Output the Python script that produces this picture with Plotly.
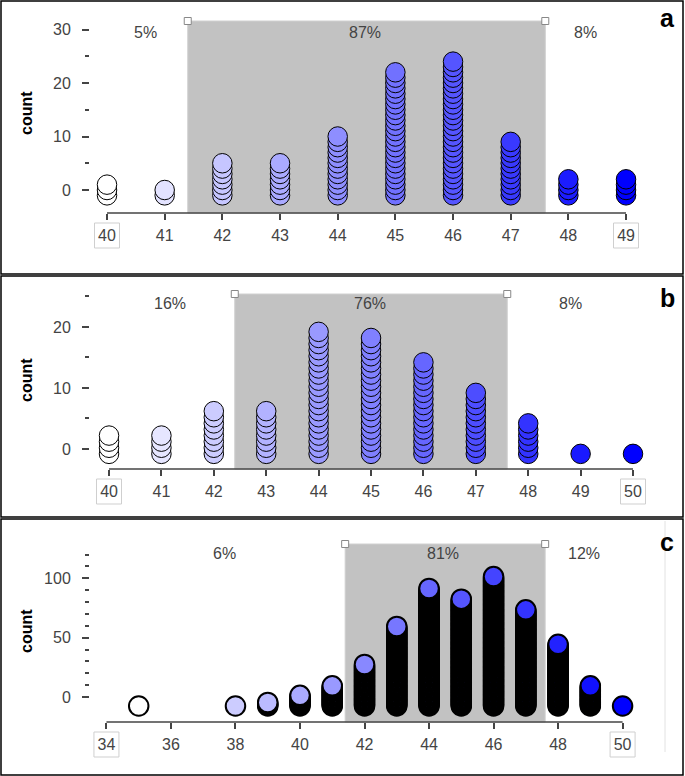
import plotly.graph_objects as go

# panel a
a_values = [40, 41, 42, 43, 44, 45, 46, 47, 48, 49]
a_counts = [3, 2, 7, 7, 12, 24, 26, 11, 4, 4]
a_shade = [41.4, 47.6]
a_pct = ["5%", "87%", "8%"]
a_yticks = [0, 10, 20, 30]
a_yminor = [5, 15, 25]

# panel b
b_values = [40, 41, 42, 43, 44, 45, 46, 47, 48, 49, 50]
b_counts = [4, 4, 8, 8, 21, 20, 16, 11, 6, 1, 1]
b_shade = [42.4, 47.6]
b_pct = ["16%", "76%", "8%"]
b_yticks = [0, 10, 20]
b_yminor = [5, 15, 25]

# panel c
c_values = [35, 38, 39, 40, 41, 42, 43, 44, 45, 46, 47, 48, 49, 50]
c_counts = [1, 1, 4, 10, 18, 36, 68, 100, 91, 110, 82, 53, 18, 1]
c_shade = [41.4, 47.6]
c_pct = ["6%", "81%", "12%"]
c_yticks = [0, 50, 100]
c_yminor = [10, 20, 30, 40, 60, 70, 80, 90, 110, 120, 130]

W, H = 685, 776
DOM_L, DOM_R = 90, 660


def xp(p):
    return p / W


def yp(p):
    return 1 - p / H


# layout of each panel in pixels
panels = [
    dict(name="a", values=a_values, counts=a_counts, shade=a_shade, pct=a_pct,
         yticks=a_yticks, yminor=a_yminor, xticks=list(range(40, 50)),
         xlim=(40, 49), cspan=(40, 49), xr=(39.705, 49.589), yr=(-4.30, 31.78),
         top=20, bottom=213, offset=-1, box=(1, 274), pct_x=(145, 365, 585), pct_y=33,
         label_y=18, count_y=113, shade_top=21, lw=1),
    dict(name="b", values=b_values, counts=b_counts, shade=b_shade, pct=b_pct,
         yticks=b_yticks, yminor=b_yminor, xticks=list(range(40, 51)),
         xlim=(40, 50), cspan=(40, 50), xr=(39.637, 50.515), yr=(-3.28, 25.57),
         top=293, bottom=469, offset=-0.8, box=(276, 517), pct_x=(170, 370, 570), pct_y=304,
         label_y=298, count_y=380, shade_top=294, lw=1),
    dict(name="c", values=c_values, counts=c_counts, shade=c_shade, pct=c_pct,
         yticks=c_yticks, yminor=c_yminor, xticks=list(range(34, 51, 2)),
         xlim=(34, 50), cspan=(35, 50), xr=(33.49, 51.16), yr=(-21.06, 129.7),
         top=543, bottom=722, offset=-7.6, box=(519, 775), pct_x=(224, 443, 584), pct_y=553,
         label_y=542, count_y=631, shade_top=544, lw=2),
]

fig = go.Figure()
shapes = []
annotations = []
FONT = "Liberation Sans, Arial, sans-serif"

for k, p in enumerate(panels):
    sfx = "" if k == 0 else str(k + 1)
    xa, ya = "x" + sfx, "y" + sfx
    lo, hi = p["cspan"]
    r0, r1 = p["xr"]

    def data_to_paper(v):
        return xp(DOM_L + (v - r0) / (r1 - r0) * (DOM_R - DOM_L))

    xs, ys, cols = [], [], []
    for v, n in zip(p["values"], p["counts"]):
        t = (v - lo) / (hi - lo)
        g = round(255 * (1 - t))
        for i in range(n):
            xs.append(v)
            ys.append(i + p["offset"])
            cols.append(f"rgb({g},{g},255)")

    fig.add_trace(go.Scatter(
        x=xs, y=ys, mode="markers", xaxis=xa, yaxis=ya, cliponaxis=False,
        marker=dict(size=19.5, color=cols, line=dict(color="black", width=p["lw"])),
        hoverinfo="skip", showlegend=False,
    ))

    dom_x = [xp(DOM_L), xp(DOM_R)]
    dom_y = [yp(p["bottom"]), yp(p["top"])]
    fig.update_layout(**{
        "xaxis" + sfx: dict(
            domain=dom_x, range=[r0, r1], anchor=ya, showgrid=False,
            zeroline=False, showline=False, ticks="outside", ticklen=6,
            tickwidth=1.5, tickcolor="#444", tickvals=p["xticks"],
            ticktext=[str(v) for v in p["xticks"]],
            tickfont=dict(family=FONT, size=16, color="#444"),
            ticklabelstandoff=2, fixedrange=True,
        ),
        "yaxis" + sfx: dict(
            domain=dom_y, range=list(p["yr"]), anchor=xa, showgrid=False,
            zeroline=False, showline=False, ticks="outside", ticklen=7,
            tickwidth=1.5, tickcolor="#444", tickvals=p["yticks"],
            tickfont=dict(family=FONT, size=16, color="#444"),
            ticklabelstandoff=8, fixedrange=True,
            minor=dict(ticks="outside", ticklen=4, tickwidth=1.5,
                       tickcolor="#444", tickvals=p["yminor"]),
        ),
    })

    # shaded middle region
    shapes.append(dict(type="rect", xref="paper", yref="paper",
                       x0=data_to_paper(p["shade"][0]), x1=data_to_paper(p["shade"][1]),
                       y0=yp(p["bottom"]), y1=yp(p["shade_top"]), fillcolor="#c2c2c2",
                       line=dict(color="#d0d0d0", width=1), layer="below"))
    for sx in p["shade"]:
        shapes.append(dict(type="rect", xref="paper", yref="paper", xsizemode="pixel",
                           ysizemode="pixel", xanchor=data_to_paper(sx),
                           yanchor=yp(p["shade_top"]),
                           x0=-3.5, x1=3.5, y0=-3.5, y1=3.5, fillcolor="white",
                           line=dict(color="#888", width=1)))

    # x axis line only across the data span
    shapes.append(dict(type="line", xref=xa, yref="paper", x0=p["xlim"][0], x1=p["xlim"][1],
                       y0=yp(p["bottom"]), y1=yp(p["bottom"]),
                       line=dict(color="#444", width=1.5)))
    # boxes around the end labels
    half = 12.5 * (r1 - r0) / (DOM_R - DOM_L)
    for ex in p["xlim"]:
        shapes.append(dict(type="rect", xref=xa, yref="paper", x0=ex - half, x1=ex + half,
                           y0=yp(p["bottom"] + 35), y1=yp(p["bottom"] + 10),
                           line=dict(color="#cfcfcf", width=1)))

    # panel frame
    shapes.append(dict(type="rect", xref="paper", yref="paper", x0=xp(1), x1=xp(683),
                       y0=yp(p["box"][1]), y1=yp(p["box"][0]),
                       line=dict(color="black", width=1.5)))

    for txt, px_ in zip(p["pct"], p["pct_x"]):
        annotations.append(dict(text=txt, xref="paper", yref="paper", x=xp(px_),
                                y=yp(p["pct_y"]), xanchor="center", yanchor="middle",
                                showarrow=False,
                                font=dict(family=FONT, size=16, color="#444")))
    annotations.append(dict(text="<b>" + p["name"] + "</b>", xref="paper", yref="paper",
                            x=xp(667), y=yp(p["label_y"]), xanchor="center",
                            yanchor="middle", showarrow=False,
                            font=dict(family=FONT, size=25, color="black")))
    annotations.append(dict(text="<b>count</b>", xref="paper", yref="paper", x=xp(26),
                            y=yp(p["count_y"]), xanchor="center", yanchor="middle",
                            showarrow=False, textangle=-90,
                            font=dict(family=FONT, size=16, color="black")))

# faint vertical line at right of panel c
shapes.append(dict(type="line", xref="paper", yref="paper", x0=xp(665), x1=xp(665),
                   y0=yp(752), y1=yp(521), line=dict(color="#e2e2e2", width=1)))

fig.update_layout(
    width=W, height=H, margin=dict(l=0, r=0, t=0, b=0),
    paper_bgcolor="white", plot_bgcolor="rgba(0,0,0,0)",
    shapes=shapes, annotations=annotations, showlegend=False,
)

# drop the default page margin so the figure sits at the window corner
fig.write_html("out.html", config={"displayModeBar": False},
               post_script="document.body.style.margin='0px';")
